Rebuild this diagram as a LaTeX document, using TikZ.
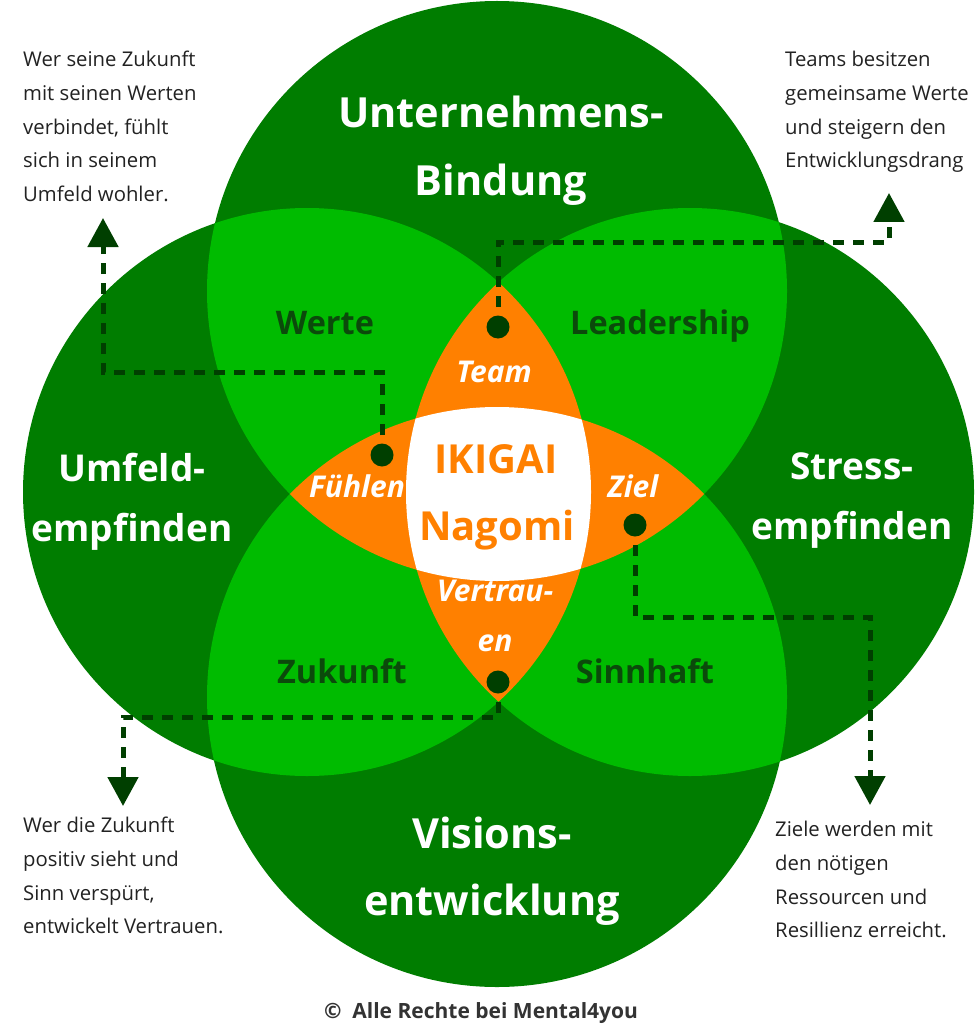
\documentclass[tikz,border=0pt]{standalone}
\usepackage{fontspec}
\setmainfont{Open Sans}
\usepackage{xcolor}
\usetikzlibrary{positioning,arrows.meta,calc}
\definecolor{ringgreen}{HTML}{007D00}
\definecolor{lapgreen}{HTML}{00BB00}
\definecolor{coreorange}{HTML}{FF8000}
\definecolor{leafdark}{HTML}{0B4A0B}
\definecolor{linkdark}{HTML}{003F00}
\definecolor{inktext}{HTML}{222222}
\definecolor{footgray}{HTML}{333333}
% circle paths (pixel units)
\newcommand{\ringTop}{(497,291) circle[radius=290]}
\newcommand{\ringBot}{(497,697) circle[radius=290]}
\newcommand{\ringLeft}{(307,492) circle[radius=284]}
\newcommand{\ringRight}{(690,492) circle[radius=284]}

\begin{document}
\begin{tikzpicture}[
  x=1pt,y=-1pt,
  >={Triangle[length=29pt,width=30pt]},
  %--- text styles ---
  outerlbl/.style ={text=white,font=\fontsize{41.5}{68}\selectfont\bfseries,
                    align=center,inner sep=0pt,anchor=north},
  sidelbl/.style  ={outerlbl,font=\fontsize{37}{60}\selectfont\bfseries},
  lapname/.style  ={text=leafdark,font=\fontsize{32.5}{38}\selectfont\bfseries,
                    inner sep=0pt,anchor=base},
  petal/.style    ={text=white,font=\fontsize{30}{50}\selectfont\bfseries\itshape,
                    inner sep=0pt,anchor=base,align=center},
  corename/.style ={text=coreorange,font=\fontsize{40}{48}\selectfont\bfseries,
                    inner sep=0pt,anchor=base},
  note/.style     ={text=inktext,font=\fontsize{20.3}{33.7}\selectfont,
                    align=left,inner sep=0pt,anchor=north west},
  %--- connector styles ---
  dotnode/.style  ={circle,fill=linkdark,minimum size=23pt,inner sep=0pt},
  link/.style     ={->,draw=linkdark,line width=5pt,dash pattern=on 11pt off 9pt},
]
\useasboundingbox (0,0) rectangle (976,1024);
\fill[white] (0,0) rectangle (976,1024);

%==================== circles ====================
\fill[ringgreen] \ringTop;
\fill[ringgreen] \ringBot;
\fill[ringgreen] \ringLeft;
\fill[ringgreen] \ringRight;

%==================== pairwise overlaps ====================
\begin{scope}\clip \ringTop;  \fill[lapgreen] \ringLeft;  \end{scope}
\begin{scope}\clip \ringTop;  \fill[lapgreen] \ringRight; \end{scope}
\begin{scope}\clip \ringBot;  \fill[lapgreen] \ringLeft;  \end{scope}
\begin{scope}\clip \ringBot;  \fill[lapgreen] \ringRight; \end{scope}

%==================== triple overlaps ====================
\begin{scope}\clip \ringLeft; \clip \ringRight; \fill[coreorange] \ringTop; \end{scope}
\begin{scope}\clip \ringLeft; \clip \ringRight; \fill[coreorange] \ringBot; \end{scope}
\begin{scope}\clip \ringTop;  \clip \ringBot;   \fill[coreorange] \ringLeft; \end{scope}
\begin{scope}\clip \ringTop;  \clip \ringBot;   \fill[coreorange] \ringRight; \end{scope}

%==================== centre ====================
\begin{scope}\clip \ringTop; \clip \ringBot; \clip \ringLeft; \fill[white] \ringRight; \end{scope}

%==================== circle labels ====================
\node[outerlbl] (bind)   at (501,96)  {Unternehmens-\\Bindung};
\node[sidelbl]  (umfeld) at (132,453) {Umfeld-\\empfinden};
\node[sidelbl]  (stress) at (852,453) {Stress-\\empfinden};
\node[outerlbl,font=\fontsize{41.5}{67}\selectfont\bfseries]
                (vision) at (492,817) {Visions-\\entwicklung};

%==================== overlap labels ====================
\node[lapname] (werte)  at (325,334) {Werte};
\node[lapname] (lead)   at (660,334) {Leadership};
\node[lapname] (zuk)    at (342,683) {Zukunft};
\node[lapname] (sinn)   at (645,683) {Sinnhaft};

\node[petal] (team)  at (494,382) {Team};
\node[petal] (feel)  at (357,497) {Fühlen};
\node[petal] (goal)  at (633,497) {Ziel};
\node[petal,anchor=north] (trust) at (495,580) {Vertrau-\\en};

\node[corename] (ikigai) at (496,473) {IKIGAI};
\node[corename] (nagomi) at (497,540) {Nagomi};

%==================== notes ====================
\node[note] (noteTL) at (23,51)  {Wer seine Zukunft\\mit seinen Werten\\verbindet, fühlt\\sich in seinem\\Umfeld wohler.};
\node[note] (noteTR) at (785,51) {Teams besitzen\\gemeinsame Werte\\und steigern den\\Entwicklungsdrang};
\node[note] (noteBL) at (23,817) {Wer die Zukunft\\positiv sieht und\\Sinn verspürt,\\entwickelt Vertrauen.};
\node[note] (noteBR) at (775,821) {Ziele werden mit\\den nötigen\\Ressourcen und\\Resillienz erreicht.};

%==================== dashed connectors ====================
\node[dotnode] (dotTeam)  at (498,327) {};
\node[dotnode] (dotFeel)  at (382,455) {};
\node[dotnode] (dotGoal)  at (635,525) {};
\node[dotnode] (dotTrust) at (498,682) {};

\coordinate (teamBend)  at (889,242);
\coordinate (teamTip)   at (889,193);
\coordinate (feelBend)  at (103,372);
\coordinate (feelTip)   at (103,218);
\coordinate (goalBend)  at (870,617);
\coordinate (goalTip)   at (870,805);
\coordinate (trustBend) at (123,717);
\coordinate (trustTip)  at (123,806);

\draw[link] (dotTeam.center)  |- (teamBend)  -- (teamTip);
\draw[link] (dotFeel.center)  |- (feelBend)  -- (feelTip);
\draw[link] (dotGoal.center)  |- (goalBend)  -- (goalTip);
\draw[link] (dotTrust.center) |- (trustBend) -- (trustTip);

%==================== footer ====================
\node[text=footgray,font=\fontsize{21}{24}\selectfont\bfseries,inner sep=0pt,anchor=base]
  (foot) at (481,1018) {©\ \ Alle Rechte bei Mental4you};

\end{tikzpicture}
\end{document}
